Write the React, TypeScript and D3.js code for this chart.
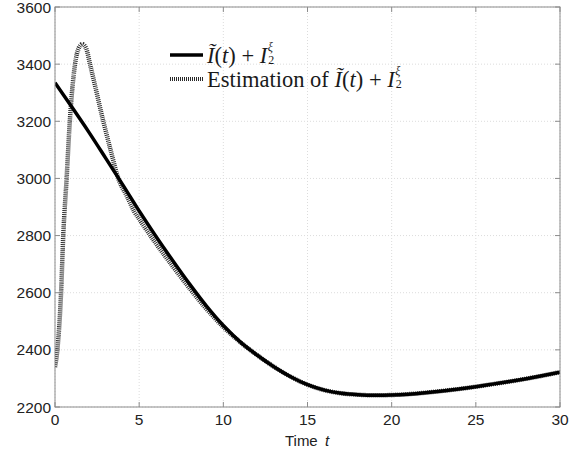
import React from "react";
import * as d3 from "d3";

// Time samples and values of the true quantity Ĩ(t) + I₂^ξ
const trueT = [0, 1, 2, 3, 4, 5, 6, 7, 8, 9, 10, 11, 12, 13, 14, 15, 16, 17, 18, 19, 20, 21, 22, 23, 24, 25, 26, 27, 28, 29, 30];
const trueV = [3335, 3250, 3163, 3072, 2980, 2886, 2797, 2712, 2630, 2553, 2485, 2428, 2382, 2341, 2306, 2278, 2259, 2248, 2243, 2241, 2242, 2245, 2250, 2256, 2263, 2271, 2280, 2289, 2299, 2310, 2322];

// Time samples and values of the estimate
const estT = [0, 0.14, 0.36, 0.49, 0.69, 0.88, 1.19, 1.4, 1.62, 1.85, 2.08, 2.87, 3.3, 3.76, 4.3, 4.7, 5, 6, 7, 8, 9, 10, 11, 12, 13, 14, 15, 16, 17, 18, 19, 20, 21, 22, 23, 24, 25, 26, 27, 28, 29, 30];
const estV = [2340, 2400, 2600, 2800, 3000, 3200, 3400, 3455, 3470, 3455, 3400, 3200, 3100, 3000, 2935, 2885, 2858, 2772, 2692, 2615, 2543, 2480, 2427, 2382, 2341, 2306, 2278, 2259, 2248, 2243, 2241, 2242, 2245, 2250, 2256, 2263, 2271, 2280, 2289, 2299, 2310, 2322];

const xTicks = [0, 5, 10, 15, 20, 25, 30];
const yTicks = [2200, 2400, 2600, 2800, 3000, 3200, 3400, 3600];

const W = 587;
const H = 452;
const L = 55, R = 560, T = 7, B = 407;

function LegendMath() {
  return (
    <>
      <tspan fontStyle="italic">Ĩ</tspan>(<tspan fontStyle="italic">t</tspan>) + <tspan fontStyle="italic">I</tspan>
      <tspan fontSize={12} dx={1} dy={1} fontStyle="normal">2</tspan>
      <tspan fontSize={12} dx={-6.5} dy={-13.5} fontStyle="italic">ξ</tspan>
    </>
  );
}

export default function App() {
  const x = d3.scaleLinear().domain([0, 30]).range([L, R]);
  const y = d3.scaleLinear().domain([2200, 3600]).range([B, T]);

  const line = d3
    .line<[number, number]>()
    .x((d) => x(d[0]))
    .y((d) => y(d[1]))
    .curve(d3.curveMonotoneX);

  const truePath = line(trueT.map((t, i) => [t, trueV[i]]) as [number, number][]) || "";
  const estPath = line(estT.map((t, i) => [t, estV[i]]) as [number, number][]) || "";

  const axisColor = "#8c8c8c";
  const gridColor = "#dcdcdc";
  const labelFont = "Liberation Sans, Arial, sans-serif";
  const serif = "Liberation Serif, Times New Roman, serif";

  return (
    <svg
      width={W}
      height={H}
      style={{ position: "absolute", left: 0, top: 0, background: "#fff" }}
    >
      <rect x={0} y={0} width={W} height={H} fill="#fff" />
      {/* grid */}
      {xTicks.map((t) => (
        <line key={"gx" + t} x1={x(t)} x2={x(t)} y1={T} y2={B} stroke={gridColor} strokeDasharray="1,2" />
      ))}
      {yTicks.map((v) => (
        <line key={"gy" + v} x1={L} x2={R} y1={y(v)} y2={y(v)} stroke={gridColor} strokeDasharray="1,2" />
      ))}

      {/* curves */}
      <defs>
        <clipPath id="plotClip">
          <rect x={L} y={T} width={R - L} height={B - T} />
        </clipPath>
      </defs>
      <g clipPath="url(#plotClip)">
        <path d={estPath} fill="none" stroke="#2a2a2a" strokeWidth={4.5} strokeDasharray="1,1" />
        <path d={truePath} fill="none" stroke="#000" strokeWidth={3.5} />
      </g>

      {/* frame */}
      <rect x={L} y={T} width={R - L} height={B - T} fill="none" stroke={axisColor} strokeWidth={1} />
      {xTicks.map((t) => (
        <g key={"tx" + t}>
          <line x1={x(t)} x2={x(t)} y1={B} y2={B - 5} stroke={axisColor} />
          <line x1={x(t)} x2={x(t)} y1={T} y2={T + 5} stroke={axisColor} />
          <text x={x(t)} y={425} textAnchor="middle" fontFamily={labelFont} fontSize={15.5} fill="#222">
            {t}
          </text>
        </g>
      ))}
      {yTicks.map((v) => (
        <g key={"ty" + v}>
          <line x1={L} x2={L + 5} y1={y(v)} y2={y(v)} stroke={axisColor} />
          <line x1={R} x2={R - 5} y1={y(v)} y2={y(v)} stroke={axisColor} />
          <text x={51} y={y(v) + 5.5} textAnchor="end" fontFamily={labelFont} fontSize={15.5} fill="#222">
            {v}
          </text>
        </g>
      ))}

      {/* axis title */}
      <text x={307} y={446} textAnchor="middle" fontFamily={labelFont} fontSize={15} fill="#222">
        Time <tspan fontStyle="italic" dx={3}>t</tspan>
      </text>

      {/* legend */}
      <line x1={170} x2={203} y1={55} y2={55} stroke="#000" strokeWidth={3.5} />
      <line x1={170} x2={203} y1={79} y2={79} stroke="#2a2a2a" strokeWidth={4} strokeDasharray="1,1" />
      <text x={207} y={63} fontFamily={serif} fontSize={22.5} fill="#1a1a1a">
        <LegendMath />
      </text>
      <text x={207} y={87} fontFamily={serif} fontSize={22.5} fill="#1a1a1a">
        Estimation of <LegendMath />
      </text>
    </svg>
  );
}
